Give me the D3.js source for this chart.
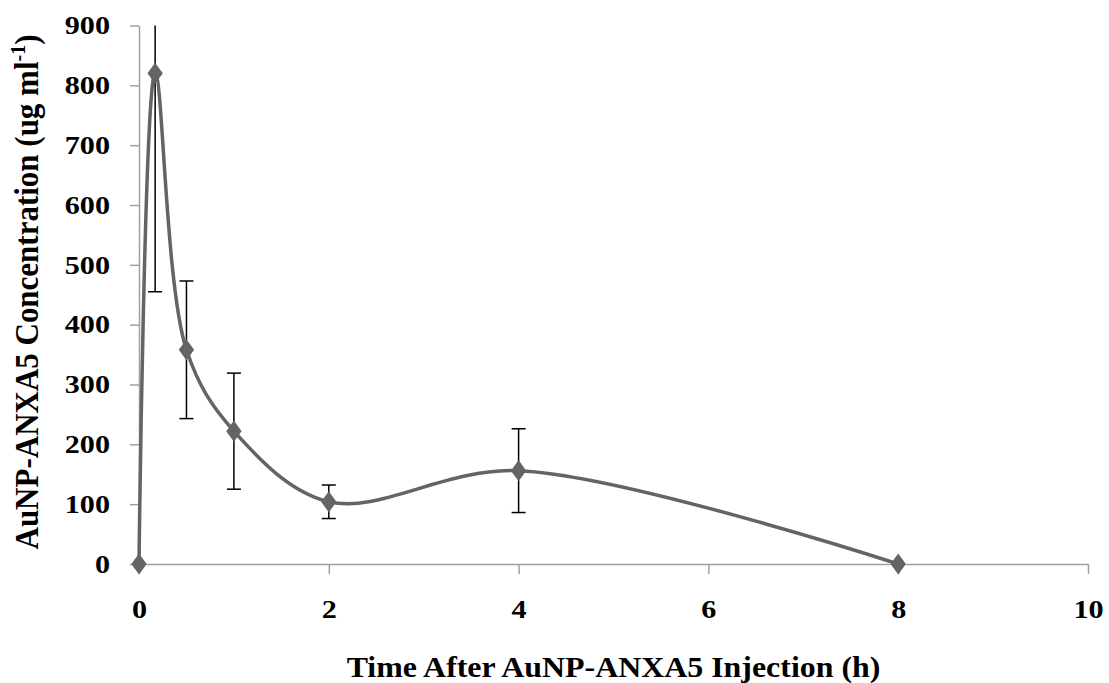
<!DOCTYPE html>
<meta charset='utf-8'>
<style>
	body { margin: 0; background: #fff; }
	text { font-family: 'Liberation Serif', 'Times New Roman', serif; font-weight: bold; fill: #000; }
	.axis path, .axis line { stroke: #a0a0a0; stroke-width: 1.5px; }
	.curve { fill: none; stroke: #646464; stroke-width: 3.5px; }
	.err { stroke: #000; stroke-width: 1.5px; }
	.dot { fill: #646464; }
</style>
<body>
<script src='https://cdn.jsdelivr.net/npm/d3@7/dist/d3.min.js'></script>
<script>
	// time after injection (h), mean concentration and error (ug/ml)
	var times = [0, 0.17, 0.5, 1, 2, 4, 8];
	var conc = [0, 820, 358, 222, 104, 156, 0];
	var errs = [0, 365, 115, 97, 28, 70, 0];
	var xTicks = [0, 2, 4, 6, 8, 10];
	var yTicks = [0, 100, 200, 300, 400, 500, 600, 700, 800, 900];

	var W = 1109, H = 683;
	var m = {left: 139, top: 25.5, right: 21, bottom: 119};
	var w = W - m.left - m.right, h = H - m.top - m.bottom;
	var sx = 1.16; // text in the picture is a bit wider than tall

	var svg = d3.select('body').append('svg').attr('width', W).attr('height', H);
	var g = svg.append('g').attr('transform', 'translate(' + m.left + ',' + m.top + ')');

	var x = d3.scaleLinear().domain([0, 10]).range([0, w]);
	var y = d3.scaleLinear().domain([0, 900]).range([h, 0]);

	var yAx = g.append('g').attr('class', 'axis')
		.call(d3.axisLeft(y).tickValues(yTicks).tickSize(9).tickPadding(11).tickSizeOuter(0));
	var xAx = g.append('g').attr('class', 'axis').attr('transform', 'translate(0,' + h + ')')
		.call(d3.axisBottom(x).tickValues(xTicks).tickSize(10).tickPadding(26).tickSizeOuter(0));

	yAx.selectAll('text').attr('font-size', 26)
		.attr('transform', 'scale(' + sx + ',1)')
		.attr('x', -29 / sx);
	xAx.selectAll('text').attr('font-size', 26)
		.attr('transform', 'scale(' + sx + ',1)');

	var pts = times.map(function (t, i) { return {t: t, v: conc[i], e: errs[i]}; });

	var line = d3.line().x(function (d) { return x(d.t); }).y(function (d) { return y(d.v); })
		.curve(d3.curveCatmullRom.alpha(0.5));
	g.append('path').attr('class', 'curve').attr('d', line(pts));

	var eb = pts.filter(function (d) { return d.e > 0; });
	g.selectAll('.errv').data(eb).enter().append('line').attr('class', 'err')
		.attr('x1', function (d) { return x(d.t); }).attr('x2', function (d) { return x(d.t); })
		.attr('y1', function (d) { return y(Math.min(900, d.v + d.e)); })
		.attr('y2', function (d) { return y(d.v - d.e); });
	g.selectAll('.capLo').data(eb).enter().append('line').attr('class', 'err')
		.attr('x1', function (d) { return x(d.t) - 7; }).attr('x2', function (d) { return x(d.t) + 7; })
		.attr('y1', function (d) { return y(d.v - d.e); }).attr('y2', function (d) { return y(d.v - d.e); });
	g.selectAll('.capHi').data(eb.filter(function (d) { return d.v + d.e <= 900; })).enter().append('line').attr('class', 'err')
		.attr('x1', function (d) { return x(d.t) - 7; }).attr('x2', function (d) { return x(d.t) + 7; })
		.attr('y1', function (d) { return y(d.v + d.e); }).attr('y2', function (d) { return y(d.v + d.e); });

	var diamond = d3.symbol().type(d3.symbolDiamond).size(130);
	g.selectAll('.dot').data(pts).enter().append('path').attr('class', 'dot')
		.attr('d', diamond)
		.attr('transform', function (d) { return 'translate(' + x(d.t) + ',' + y(d.v) + ') scale(1.25,1)'; });

	// axis titles
	svg.append('text').attr('font-size', 29)
		.attr('text-anchor', 'middle')
		.attr('transform', 'translate(' + (m.left + w / 2) + ',677) scale(1.1,1)')
		.text('Time After AuNP-ANXA5 Injection (h)');

	var yt = svg.append('text').attr('font-size', 31)
		.attr('text-anchor', 'middle')
		.attr('transform', 'translate(38,292) scale(1.08,1) rotate(-90)');
	yt.append('tspan').text('AuNP-ANXA5 Concentration (ug ml');
	yt.append('tspan').attr('font-size', 20).attr('dy', -12).text('-1');
	yt.append('tspan').attr('dy', 12).text(')');
</script>
</body>
